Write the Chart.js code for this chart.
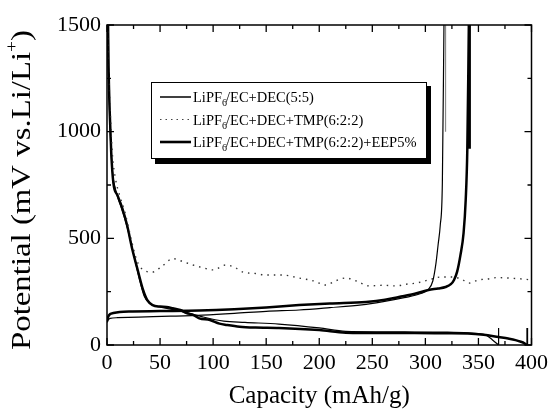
<!DOCTYPE html>
<html>
<head>
<meta charset="utf-8">
<script src="https://cdn.jsdelivr.net/npm/chart.js@4"></script>
<style>
  body { margin: 0; background: #fff; }
  canvas { display: block; }
</style>
</head>
<body>
<canvas id="chart" width="553" height="410"></canvas>
<script>
// LiPF6/EC+DEC(5:5) - discharge, charge, and the rest steps
const ecDecDisX = [0.5, 1, 2, 3, 5, 8, 13, 18, 24, 30, 35, 40, 50, 60, 75, 90, 110, 130, 162, 200, 225, 260, 290, 320, 340, 350, 357, 363, 369];
const ecDecDisY = [1500, 1350, 1180, 1000, 820, 730, 650, 570, 450, 320, 230, 195, 178, 168, 152, 132, 112, 106, 98, 80, 64, 62, 61, 60, 57, 53, 47, 25, 0];
const ecDecChgX = [0, 1, 3, 10, 30, 60, 90, 120, 150, 181, 210, 240, 259, 280, 295, 303, 307, 310, 312, 314, 316, 317.5];
const ecDecChgY = [105, 117, 125, 128, 131, 135, 140, 148, 158, 164, 175, 188, 202, 222, 240, 262, 300, 384, 470, 560, 760, 1500];
const ecDecRestX = [369, 369];
const ecDecRestY = [0, 80];
const ecDecTopX = [319, 319];
const ecDecTopY = [1500, 1000];

// LiPF6/EC+DEC+TMP(6:2:2)
const tmpX = [0.5, 1.5, 3, 5, 8, 12, 17, 23, 28, 34, 43, 52, 62, 72, 81, 92, 100, 112, 120, 128, 140, 150, 165, 181, 195, 206, 215, 225, 235, 247, 260, 272, 282, 291, 303, 315, 324, 334, 341, 350, 358, 368, 378, 390, 400];
const tmpY = [1500, 1300, 1100, 900, 780, 700, 620, 492, 398, 352, 342, 370, 405, 390, 375, 360, 352, 375, 365, 342, 335, 328, 328, 314, 300, 281, 300, 314, 300, 277, 280, 277, 285, 290, 305, 319, 319, 309, 290, 305, 309, 316, 314, 310, 305];

// LiPF6/EC+DEC+TMP(6:2:2)+EEP5%
const eepDisX = [1, 1.5, 2.5, 4, 6, 10, 14, 19, 24, 29, 34, 38, 43, 50, 56, 62, 69, 75, 81, 87, 97, 106, 113, 125, 140, 162, 200, 225, 260, 290, 320, 340, 355, 369, 378, 385, 390, 393, 395.5];
const eepDisY = [1500, 1300, 1100, 900, 760, 700, 647, 560, 445, 350, 258, 210, 187, 180, 178, 172, 164, 150, 141, 125, 117, 100, 94, 86, 82, 80, 70, 58, 56, 56, 55, 54, 48, 37, 30, 23, 15, 9, 0];
const eepChgX = [0, 1, 3, 6, 12, 24, 50, 87, 120, 150, 181, 210, 244, 262, 275, 290, 303, 312, 319, 324, 327, 330, 333, 336, 338, 339.5, 341];
const eepChgY = [110, 131, 145, 150, 155, 157, 159, 162, 168, 176, 187, 195, 202, 212, 225, 240, 258, 265, 272, 285, 305, 345, 420, 525, 680, 914, 1500];
const eepRestX = [396, 396];
const eepRestY = [0, 80];
const eepTopX = [341.5, 341.5];
const eepTopY = [1500, 920];

const legendItems = [
    { pre: 'LiPF', sub: '6', post: '/EC+DEC(5:5)' },
    { pre: 'LiPF', sub: '6', post: '/EC+DEC+TMP(6:2:2)' },
    { pre: 'LiPF', sub: '6', post: '/EC+DEC+TMP(6:2:2)+EEP5%' }
];

const FONT = "'Liberation Serif', 'Times New Roman', serif";

function toPoints(xs, ys) {
    return xs.map((x, i) => ({ x: x, y: ys[i] }));
}

function curve(xs, ys, width, color, dash, smooth) {
    return {
        data: toPoints(xs, ys),
        borderColor: color,
        borderWidth: width,
        borderDash: dash || [],
        pointRadius: 0,
        showLine: true,
        fill: false,
        cubicInterpolationMode: smooth ? 'monotone' : 'default',
        tension: 0
    };
}

// inside ticks on all four sides + frame, titles and legend
const frameTicks = {
    id: 'frameTicks',
    afterDraw(chart) {
        const ctx = chart.ctx;
        const a = chart.chartArea;
        const xs = chart.scales.x;
        const ys = chart.scales.y;
        ctx.save();
        ctx.strokeStyle = '#000';
        ctx.lineWidth = 1.5;
        ctx.strokeRect(a.left, a.top, a.right - a.left, a.bottom - a.top);
        ctx.lineWidth = 1.3;
        ctx.beginPath();
        for (let v = 0; v <= 400; v += 25) {
            const px = xs.getPixelForValue(v);
            const len = v % 50 === 0 ? 7 : 4;
            ctx.moveTo(px, a.bottom); ctx.lineTo(px, a.bottom - len);
            ctx.moveTo(px, a.top); ctx.lineTo(px, a.top + len);
        }
        for (let v = 0; v <= 1500; v += 250) {
            const py = ys.getPixelForValue(v);
            const len = v % 500 === 0 ? 7 : 4;
            ctx.moveTo(a.left, py); ctx.lineTo(a.left + len, py);
            ctx.moveTo(a.right, py); ctx.lineTo(a.right - len, py);
        }
        ctx.stroke();

        // axis titles
        ctx.fillStyle = '#000';
        ctx.textBaseline = 'middle';
        ctx.textAlign = 'center';
        ctx.font = '25px ' + FONT;
        ctx.fillText('Capacity (mAh/g)', (a.left + a.right) / 2, 396);

        ctx.save();
        ctx.translate(23, 190);
        ctx.rotate(-Math.PI / 2);
        const main = 'Potential (mV vs.Li/Li';
        ctx.font = '16px ' + FONT;
        const plusW = ctx.measureText('+').width;
        ctx.font = '27px ' + FONT;
        const mainW = ctx.measureText(main).width;
        const closeW = ctx.measureText(')').width;
        const total = mainW + plusW + closeW;
        const stretch = 320 / total;
        ctx.scale(stretch, 1);
        let x0 = -total / 2;
        ctx.textAlign = 'left';
        ctx.fillText(main, x0, 0);
        ctx.font = '16px ' + FONT;
        ctx.fillText('+', x0 + mainW, -10);
        ctx.font = '27px ' + FONT;
        ctx.fillText(')', x0 + mainW + plusW, 0);
        ctx.restore();

        // legend box with shadow
        ctx.fillStyle = '#000';
        ctx.fillRect(155, 86, 276, 78);
        ctx.fillStyle = '#fff';
        ctx.fillRect(151, 82, 275, 76);
        ctx.strokeStyle = '#000';
        ctx.lineWidth = 1;
        ctx.strokeRect(151.5, 82.5, 275, 76);

        const rows = [97, 119.5, 142];
        const styles = [
            { w: 1.5, c: '#000', d: [] },
            { w: 1.2, c: '#444', d: [1.5, 4] },
            { w: 2.6, c: '#000', d: [] }
        ];
        legendItems.forEach((item, i) => {
            const y = rows[i];
            const s = styles[i];
            ctx.beginPath();
            ctx.strokeStyle = s.c;
            ctx.lineWidth = s.w;
            ctx.setLineDash(s.d);
            ctx.moveTo(160, y);
            ctx.lineTo(191, y);
            ctx.stroke();
            ctx.setLineDash([]);
            ctx.fillStyle = '#000';
            ctx.textAlign = 'left';
            ctx.textBaseline = 'alphabetic';
            let tx = 193;
            ctx.font = '14.5px ' + FONT;
            ctx.fillText(item.pre, tx, y + 5);
            tx += ctx.measureText(item.pre).width;
            ctx.font = '10px ' + FONT;
            ctx.fillText(item.sub, tx, y + 9);
            tx += ctx.measureText(item.sub).width - 1;
            ctx.font = '14.5px ' + FONT;
            ctx.fillText(item.post, tx, y + 5);
        });
        ctx.restore();
    }
};

const datasets = [
    curve(ecDecDisX, ecDecDisY, 1.2, '#000', null, true),
    curve(ecDecChgX, ecDecChgY, 1.2, '#000', null, true),
    curve(ecDecRestX, ecDecRestY, 1.2, '#000', null, false),
    curve(ecDecTopX, ecDecTopY, 1.2, '#888', null, false),
    curve(tmpX, tmpY, 1.4, '#333', [1.5, 5], true),
    curve(eepDisX, eepDisY, 2.5, '#000', null, true),
    curve(eepChgX, eepChgY, 2.5, '#000', null, true),
    curve(eepRestX, eepRestY, 1.8, '#000', null, false),
    curve(eepTopX, eepTopY, 3, '#000', null, false)
];

new Chart(document.getElementById('chart').getContext('2d'), {
    type: 'scatter',
    data: { datasets: datasets },
    options: {
        responsive: false,
        animation: false,
        layout: { padding: { top: 25, right: 20, left: 0, bottom: 0 } },
        plugins: {
            legend: { display: false },
            tooltip: { enabled: false }
        },
        scales: {
            x: {
                type: 'linear',
                min: 0,
                max: 400,
                ticks: { stepSize: 50, color: '#000', font: { family: FONT, size: 22 }, padding: 5, maxRotation: 0 },
                grid: { display: false, drawTicks: false },
                border: { display: false },
                afterFit: s => { s.height = 65; }
            },
            y: {
                type: 'linear',
                min: 0,
                max: 1500,
                ticks: {
                    stepSize: 500, color: '#000', font: { family: FONT, size: 22 }, padding: 6,
                    callback: v => String(v)
                },
                grid: { display: false, drawTicks: false },
                border: { display: false },
                afterFit: s => { s.width = 107; }
            }
        }
    },
    plugins: [frameTicks]
});
</script>
</body>
</html>
